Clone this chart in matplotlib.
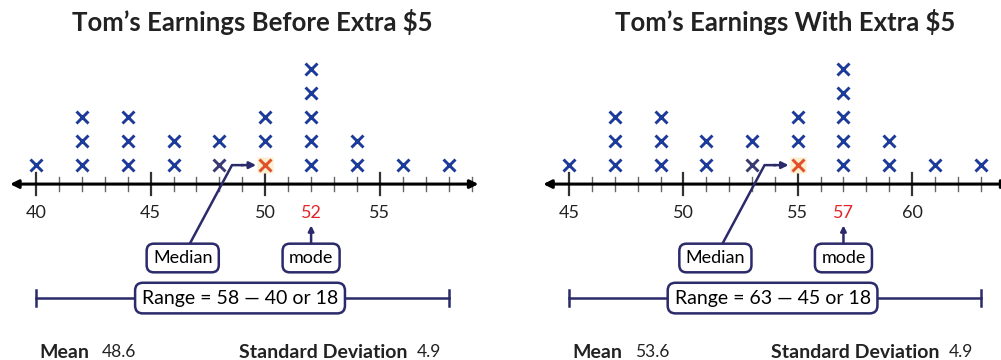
import matplotlib
matplotlib.use("Agg")
import matplotlib.pyplot as plt

plt.rcParams["font.family"] = ["Lato", "DejaVu Sans"]

# ── data ────────────────────────────────────────────────────────────
earn_before = [40, 42, 44, 46, 48, 50, 52, 54, 56, 58]
count_before = [1, 3, 3, 2, 2, 3, 5, 2, 1, 1]
earn_with = [45, 47, 49, 51, 53, 55, 57, 59, 61, 63]
count_with = [1, 3, 3, 2, 2, 3, 5, 2, 1, 1]

titles = ["Tom\u2019s Earnings Before Extra $5", "Tom\u2019s Earnings With Extra $5"]
medians = [50, 55]
modes = [52, 57]
means = [48.6, 53.6]
stdevs = [4.9, 4.9]

BLUE = "#1c3a9a"
NAVY = "#2b2a6a"
RED = "#e2262c"
TEXT = "#222222"


def draw_panel(ax, xs, counts, median, mode, mean, sd, title, first_tick):
    # ── number line with arrow heads ──
    ax.annotate("", xy=(first_tick - 1.13, 0), xytext=(first_tick + 19.3, 0),
                arrowprops=dict(arrowstyle="<|-|>", color="black", lw=2.2,
                                mutation_scale=12, shrinkA=0, shrinkB=0))
    for t in range(first_tick, first_tick + 20):
        big = (t % 5 == 0)
        h = 0.46 if big else 0.3
        ax.plot([t, t], [-h, h], color="#333333" if big else "#666666",
                lw=1.6 if big else 1.0, zorder=2)
        if big:
            ax.text(t, -1.2, str(t), ha="center", va="center", fontsize=13,
                    color=TEXT)
    ax.text(mode, -1.2, str(mode), ha="center", va="center", fontsize=13,
            color=RED)

    # ── stacked X marks ──
    for x, n in zip(xs, counts):
        for k in range(1, n + 1):
            c = BLUE
            if k == 1 and x == median:
                c = "#e0502a"
                ax.plot(x, k - 0.21, marker="s", ms=11, color="#fdeecf",
                        zorder=3, mec="none")
            elif k == 1 and x == median - 2:
                c = "#3a3a72"
            ax.plot(x, k - 0.21, marker="x", ms=9, mew=2.1, color=c, zorder=4)

    box = dict(boxstyle="round,pad=0.35,rounding_size=0.4", fc="white",
               ec=NAVY, lw=1.8)

    # ── median callout ──
    ax.text(median - 3.6, -3.08, "Median", ha="center", va="center",
            fontsize=13, bbox=box, zorder=6)
    ax.plot([median - 3.3, median - 1.45, median - 1.0],
            [-2.5, 0.79, 0.79], color=NAVY, lw=1.8, zorder=5)
    ax.annotate("", xy=(median - 0.4, 0.79), xytext=(median - 1.05, 0.79),
                arrowprops=dict(arrowstyle="-|>", color=NAVY, lw=1.8,
                                mutation_scale=10, shrinkA=0, shrinkB=0))

    # ── mode callout ──
    ax.text(mode, -3.08, "mode", ha="center", va="center", fontsize=13,
            bbox=box, zorder=6)
    ax.annotate("", xy=(mode, -1.72), xytext=(mode, -2.48),
                arrowprops=dict(arrowstyle="-|>", color=NAVY, lw=1.8,
                                mutation_scale=8, shrinkA=0, shrinkB=0))

    # ── range bar ──
    lo_v, hi_v = min(xs), max(xs)
    ax.plot([lo_v, hi_v], [-4.75, -4.75], color=NAVY, lw=1.8, zorder=5)
    for v in (lo_v, hi_v):
        ax.plot([v, v], [-4.4, -5.1], color=NAVY, lw=1.8, zorder=5)
    ax.text((lo_v + hi_v) / 2 - 0.1, -4.75,
            f"Range = {hi_v} \u2014 {lo_v} or {hi_v - lo_v}",
            ha="center", va="center", fontsize=14, bbox=box, zorder=6)

    # ── summary statistics ──
    ax.text(lo_v + 0.15, -7.0, "Mean", ha="left", va="center", fontsize=14,
            fontweight="bold", color=TEXT)
    ax.text(lo_v + 2.88, -7.0, f"{mean}", ha="left", va="center", fontsize=12.5,
            color=TEXT)
    ax.text(lo_v + 8.85, -7.0, "Standard Deviation", ha="left", va="center",
            fontsize=14, fontweight="bold", color=TEXT)
    ax.text(lo_v + 16.6, -7.0, f"{sd}", ha="left", va="center", fontsize=12.5,
            color=TEXT)

    ax.text(first_tick + 9.45, 6.75, title, ha="center", va="center",
            fontsize=18.5, fontweight="bold", color=TEXT)


fig = plt.figure(figsize=(10.01, 3.6), dpi=100)
ax1 = fig.add_axes([0, 0, 500 / 1001, 1])
ax2 = fig.add_axes([500 / 1001, 0, 501 / 1001, 1])
ax1.set_xlim(38.43, 60.24)
ax2.set_xlim(41.98, 63.89)
for ax in (ax1, ax2):
    ax.set_ylim(-7.33, 7.67)
    ax.axis("off")

draw_panel(ax1, earn_before, count_before, medians[0], modes[0], means[0],
           stdevs[0], titles[0], 40)
draw_panel(ax2, earn_with, count_with, medians[1], modes[1], means[1],
           stdevs[1], titles[1], 45)

fig.savefig("out.png", dpi=100)
